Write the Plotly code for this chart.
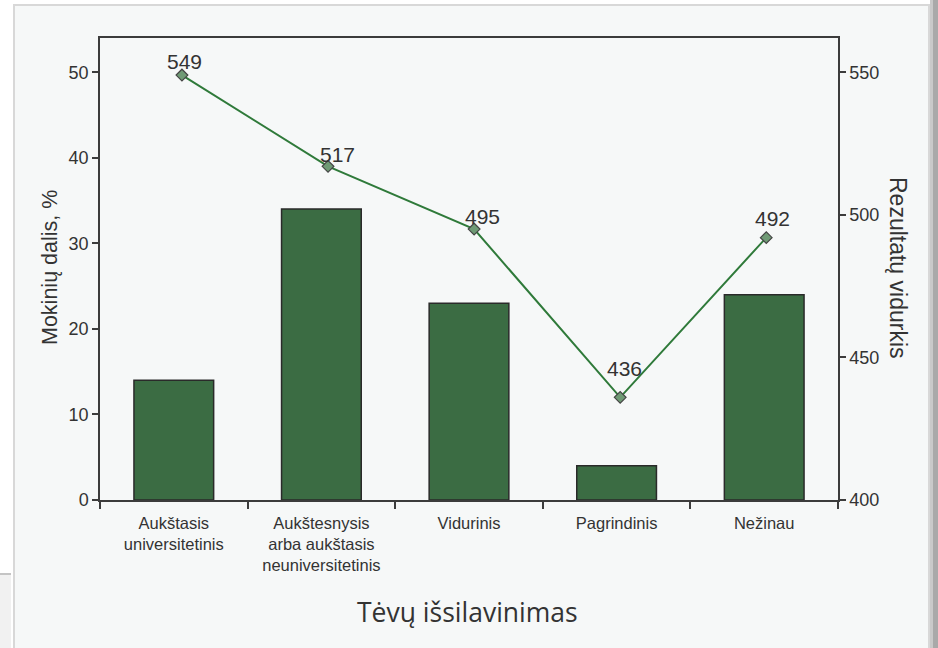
import plotly.graph_objects as go

# Parent education categories, share of students (%) and mean score
categories = [
    "Aukštasis<br>universitetinis",
    "Aukštesnysis<br>arba aukštasis<br>neuniversitetinis",
    "Vidurinis",
    "Pagrindinis",
    "Nežinau",
]
share_pct = [14, 34, 23, 4, 24]
mean_score = [549, 517, 495, 436, 492]

left_ticks = [0, 10, 20, 30, 40, 50]
right_ticks = [400, 450, 500, 550]

# pixel nudges of each score label relative to its marker
label_dx = [3, 9, 8, 4, 6]
label_dy = [14, 12, 13, 29, 19]

W, H = 938, 648
ML, MR, MT, MB = 100, 100, 38, 148
PW, PH = W - ML - MR, H - MT - MB


def px(xpix):
    return (xpix - ML) / PW


def py(ypix):
    return (H - MB - ypix) / PH


CARD = "#f6f8f8"
AXIS = "#3c3c3c"
TEXT = "#333333"
FONT = "Liberation Sans, Arial, sans-serif"

fig = go.Figure()

fig.add_trace(go.Bar(
    x=categories,
    y=share_pct,
    marker=dict(color="#3b6c43", line=dict(color="#2a2a2a", width=1.5)),
    width=0.54,
    hoverinfo="x+y",
    showlegend=False,
))

score_x = list(range(len(mean_score)))
fig.add_trace(go.Scatter(
    x=score_x,
    y=mean_score,
    xaxis="x2",
    yaxis="y2",
    mode="lines+markers",
    line=dict(color="#2f7a3a", width=2),
    marker=dict(symbol="diamond", size=9, color="#6f9a75",
                line=dict(color="#454545", width=1.2)),
    cliponaxis=False,
    showlegend=False,
))

shapes = [
    # card panel
    dict(type="rect", xref="paper", yref="paper", layer="below",
         x0=px(14), x1=px(929), y0=py(5), y1=py(H + 5),
         fillcolor=CARD, line=dict(color="#d8d8d8", width=2)),
    # right edge shadow
    dict(type="rect", xref="paper", yref="paper", layer="below",
         x0=px(930), x1=px(933), y0=py(0), y1=py(H),
         fillcolor="#c9c9c9", line=dict(width=0)),
    dict(type="rect", xref="paper", yref="paper", layer="below",
         x0=px(933), x1=px(W), y0=py(0), y1=py(H),
         fillcolor="#a9a9a9", line=dict(width=0)),
    # neighbouring panel at bottom-left
    dict(type="rect", xref="paper", yref="paper", layer="below",
         x0=px(-2), x1=px(11), y0=py(574), y1=py(H + 5),
         fillcolor="#f1f1f1", line=dict(width=0)),
    dict(type="line", xref="paper", yref="paper", layer="below",
         x0=px(0), x1=px(11), y0=py(574), y1=py(574),
         line=dict(color="#c4c4c4", width=2)),
]

annotations = [
    dict(text="Mokinių dalis, %", xref="paper", yref="paper",
         x=px(50), y=py(268), textangle=-90, showarrow=False,
         xanchor="center", yanchor="middle",
         font=dict(family=FONT, size=21.5, color=TEXT)),
    dict(text="Rezultatų vidurkis", xref="paper", yref="paper",
         x=px(898), y=py(268), textangle=90, showarrow=False,
         xanchor="center", yanchor="middle",
         font=dict(family=FONT, size=23, color=TEXT)),
    dict(text="Tėvų išsilavinimas", xref="paper", yref="paper",
         x=px(467), y=py(612), showarrow=False,
         xanchor="center", yanchor="middle",
         font=dict(family="Open Sans, sans-serif", size=26.5, color=TEXT)),
]

# score labels placed next to each marker
for xi, v, dx, dy in zip(score_x, mean_score, label_dx, label_dy):
    annotations.append(dict(
        text=str(v), xref="x2", yref="y2", x=xi, y=v,
        showarrow=False, xanchor="center", yanchor="middle",
        xshift=dx, yshift=dy,
        font=dict(family=FONT, size=21, color=TEXT),
    ))

fig.update_layout(
    width=W, height=H,
    margin=dict(l=ML, r=MR, t=MT, b=MB, pad=0),
    paper_bgcolor="white",
    plot_bgcolor=CARD,
    font=dict(family=FONT, color=TEXT),
    bargap=0.46,
    shapes=shapes,
    annotations=annotations,
    xaxis=dict(
        type="category",
        showline=True, linecolor=AXIS, linewidth=1.5, mirror=True,
        ticks="outside", tickson="boundaries", ticklen=7,
        tickcolor=AXIS, tickwidth=1.5,
        ticklabelstandoff=7,
        tickfont=dict(family=FONT, size=16.5, color=TEXT),
        showgrid=False, zeroline=False,
    ),
    xaxis2=dict(
        overlaying="x", range=[-0.561, 4.491], visible=False,
    ),
    yaxis=dict(
        range=[0, 54], tickvals=left_ticks,
        showline=True, linecolor=AXIS, linewidth=1.5,
        ticks="outside", ticklen=6, tickcolor=AXIS, tickwidth=1.5,
        tickfont=dict(family=FONT, size=18, color=TEXT),
        showgrid=False, zeroline=False,
    ),
    yaxis2=dict(
        overlaying="y", side="right", range=[400, 562], tickvals=right_ticks,
        showline=True, linecolor=AXIS, linewidth=1.5,
        ticks="outside", ticklen=6, tickcolor=AXIS, tickwidth=1.5,
        tickfont=dict(family=FONT, size=18, color=TEXT),
        showgrid=False, zeroline=False,
    ),
)

fig.write_html("out.html")
